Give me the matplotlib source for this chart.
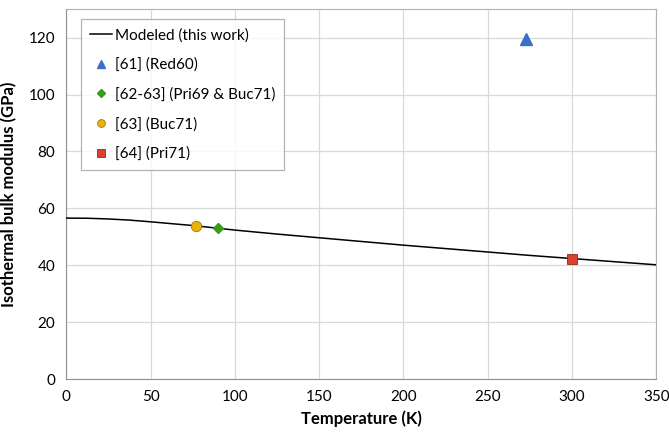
import matplotlib
matplotlib.use('Agg')
import matplotlib.pyplot as plt

plt.rcParams['font.family'] = ['Lato', 'DejaVu Sans']

# modeled curve
tModel = [0, 12.5, 25, 37.5, 50, 75, 100, 125, 150, 175, 200, 225, 250, 275, 300, 325, 350]
bModel = [56.6, 56.55, 56.3, 55.9, 55.3, 54.0, 52.4, 51.0, 49.7, 48.4, 47.1, 45.9, 44.7, 43.5, 42.4, 41.3, 40.2]

# experimental points
tRed60 = [273]
bRed60 = [119.5]
tPri69Buc71 = [90]
bPri69Buc71 = [53.0]
tBuc71 = [77]
bBuc71 = [54.0]
tPri71 = [300]
bPri71 = [42.3]

fig = plt.figure(figsize=(6.69, 4.32), dpi=100)
ax = fig.add_axes([0.099, 0.122, 0.882, 0.857])

ax.plot(tModel, bModel, color='black', lw=1.1, label='Modeled (this work)', zorder=3)
ax.plot(tRed60, bRed60, ls='none', marker='^', ms=8, color='#3a6fcb',
        label='[61] (Red60)', zorder=4)
ax.plot(tPri69Buc71, bPri69Buc71, ls='none', marker='D', ms=5.5, color='#3a9a1c',
        label='[62-63] (Pri69 & Buc71)', zorder=4)
ax.plot(tBuc71, bBuc71, ls='none', marker='o', ms=7.5, color='#e8b20a',
        mec='#a07a10', mew=0.6, label='[63] (Buc71)', zorder=4)
ax.plot(tPri71, bPri71, ls='none', marker='s', ms=7, color='#d8412f',
        mec='#8a2a20', mew=0.6, label='[64] (Pri71)', zorder=4)

ax.set_xlim(0, 350)
ax.set_ylim(0, 130)
ax.set_xticks(range(0, 351, 50))
ax.set_yticks(range(0, 121, 20))
ax.grid(True, color='#d9d9d9', lw=0.9)
ax.set_axisbelow(True)
for s in ax.spines.values():
    s.set_color('#b0b0b0')
ax.spines['left'].set_color('#909090')
ax.spines['bottom'].set_color('#909090')
ax.tick_params(length=0, labelsize=11, pad=8)

ax.set_xlabel('Temperature (K)', fontsize=12, fontweight='bold', labelpad=4)
ax.set_ylabel('Isothermal bulk modulus (GPa)', fontsize=12, fontweight='bold', labelpad=8)

leg = ax.legend(loc='upper left', bbox_to_anchor=(0.012, 0.994), fontsize=11,
                frameon=True, fancybox=False, edgecolor='#a0a0a0',
                handlelength=1.4, handletextpad=0.2, labelspacing=1.0,
                borderpad=0.6, markerscale=0.75)
leg.get_frame().set_linewidth(0.9)

fig.savefig('out.png', dpi=100)
